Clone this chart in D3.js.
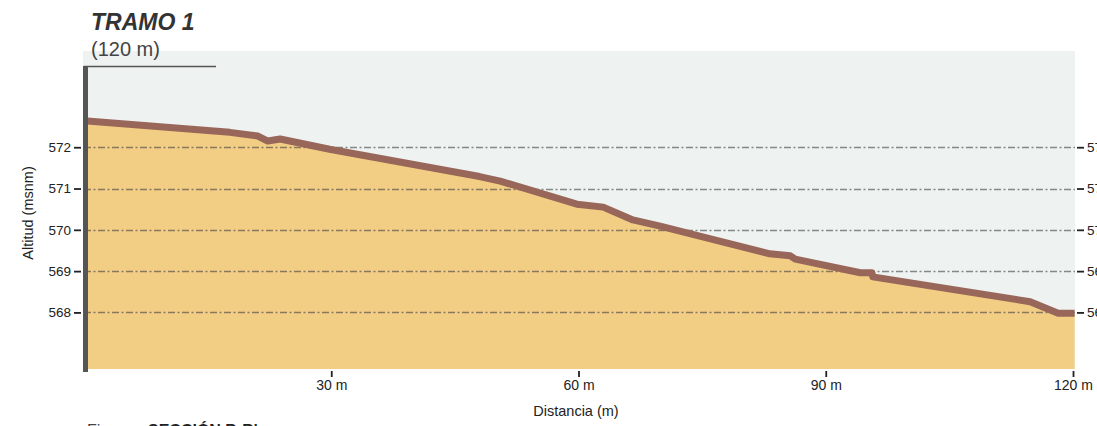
<!DOCTYPE html>
<html>
<head>
<meta charset="utf-8">
<script src="https://cdn.jsdelivr.net/npm/d3@7"></script>
<style>
  html, body { margin: 0; padding: 0; background: #ffffff; overflow: hidden; }
  svg { display: block; font-family: "Liberation Sans", Arial, Helvetica, sans-serif; }
</style>
</head>
<body>
<svg id="chart" width="1097" height="426"></svg>
<script>
// ---- data ----
const distances = [0, 17.7, 21.1, 22.3, 23.8, 29.8, 48.0, 50.5, 59.8, 63.0, 66.6, 69.9, 83.2, 85.7, 86.3, 94.2, 95.6, 95.7, 114.8, 118.2, 120.2];
const altitudes = [572.64, 572.36, 572.27, 572.15, 572.20, 571.95, 571.29, 571.18, 570.62, 570.55, 570.24, 570.09, 569.42, 569.37, 569.29, 568.96, 568.96, 568.86, 568.26, 567.98, 567.98];
const yTicks = [568, 569, 570, 571, 572];
const xTicks = [30, 60, 90, 120];
const xTickLabels = ["30 m", "60 m", "90 m", "120 m"];
const title = "TRAMO 1";
const subtitle = "(120 m)";
const yLabel = "Altitud (msnm)";
const xLabel = "Distancia (m)";

const profile = distances.map((d, i) => ({ d, a: altitudes[i] }));

// ---- layout ----
const svg = d3.select("#chart");
const plot = { left: 84, right: 1075, top: 51, bottom: 369 };

const x = d3.scaleLinear().domain([0, 120]).range([84, 1073]);
const y = d3.scaleLinear().domain([566.63, 574.33]).range([plot.bottom, plot.top]);

// background
svg.append("rect")
  .attr("x", plot.left - 1).attr("y", plot.top)
  .attr("width", plot.right - plot.left + 1).attr("height", plot.bottom - plot.top)
  .attr("fill", "#eef2f1");

// clip to plot
svg.append("clipPath").attr("id", "clip")
  .append("rect").attr("x", plot.left).attr("y", plot.top)
  .attr("width", plot.right - plot.left).attr("height", plot.bottom - plot.top);

const g = svg.append("g").attr("clip-path", "url(#clip)");

// terrain area
const area = d3.area()
  .x(p => x(p.d))
  .y0(plot.bottom + 5)
  .y1(p => y(p.a));
g.append("path").datum(profile)
  .attr("d", area)
  .attr("fill", "#f2ce85");

// gridlines
g.selectAll("line.grid").data(yTicks).enter().append("line")
  .attr("class", "grid")
  .attr("x1", plot.left).attr("x2", plot.right)
  .attr("y1", d => Math.round(y(d)) + 0.5).attr("y2", d => Math.round(y(d)) + 0.5)
  .attr("stroke", "rgba(65,65,65,0.6)")
  .attr("stroke-width", 1.7)
  .attr("stroke-dasharray", "7,2.5,2,2.5");

// profile line
const line = d3.line().x(p => x(p.d)).y(p => y(p.a));
g.append("path").datum(profile)
  .attr("d", line)
  .attr("fill", "none")
  .attr("stroke", "#98675a")
  .attr("stroke-width", 7)
  .attr("stroke-linejoin", "round");

// left axis
const leftAxis = d3.axisLeft(y).tickValues(yTicks).tickFormat(d3.format("d")).tickSize(7).tickPadding(3);
const la = svg.append("g").attr("transform", `translate(${plot.left - 3},0)`).call(leftAxis);
la.select(".domain").remove();
la.selectAll(".tick line").attr("stroke", "#222").attr("stroke-width", 1.8);
la.selectAll(".tick text").attr("fill", "#222").attr("font-size", 13.5)
  .attr("font-family", "'Liberation Sans', Arial, sans-serif");

// right axis (cut off by the window edge, as in the reference)
const rightAxis = d3.axisRight(y).tickValues(yTicks).tickFormat(d3.format("d")).tickSize(7).tickPadding(3);
const ra = svg.append("g").attr("transform", `translate(${plot.right + 2},0)`).call(rightAxis);
ra.select(".domain").remove();
ra.selectAll(".tick line").attr("stroke", "#222").attr("stroke-width", 1.8);
ra.selectAll(".tick text").attr("fill", "#222").attr("font-size", 13.5)
  .attr("font-family", "'Liberation Sans', Arial, sans-serif");

// thick vertical bar on left and the short top line
svg.append("line")
  .attr("x1", 85.5).attr("x2", 85.5)
  .attr("y1", 66).attr("y2", 372)
  .attr("stroke", "#555555").attr("stroke-width", 5);
svg.append("line")
  .attr("x1", 84).attr("x2", 216)
  .attr("y1", 66.5).attr("y2", 66.5)
  .attr("stroke", "#555555").attr("stroke-width", 1.6);

// bottom axis
const bottomAxis = d3.axisBottom(x).tickValues(xTicks)
  .tickFormat((d, i) => xTickLabels[i]).tickSize(6).tickPadding(3);
const ba = svg.append("g").attr("transform", `translate(0,${plot.bottom + 2})`).call(bottomAxis);
ba.select(".domain").remove();
ba.selectAll(".tick line").attr("stroke", "#222").attr("stroke-width", 1.8);
ba.selectAll(".tick text").attr("fill", "#222").attr("font-size", 14)
  .attr("font-family", "'Liberation Sans', Arial, sans-serif");

// axis labels
svg.append("text")
  .attr("x", 576).attr("y", 416)
  .attr("text-anchor", "middle")
  .attr("font-size", 14.5).attr("fill", "#222")
  .text(xLabel);

svg.append("text")
  .attr("transform", "translate(33,213) rotate(-90)")
  .attr("text-anchor", "middle")
  .attr("font-size", 14.5).attr("fill", "#222")
  .text(yLabel);

// titles
svg.append("text")
  .attr("x", 91).attr("y", 30)
  .attr("font-size", 23).attr("font-weight", "bold").attr("font-style", "italic")
  .attr("fill", "#333")
  .text(title);
svg.append("text")
  .attr("x", 91).attr("y", 56)
  .attr("font-size", 20).attr("fill", "#444")
  .text(subtitle);

// caption (cut off at bottom, as in the reference)
const cap = svg.append("text").attr("x", 87).attr("y", 436).attr("font-size", 16).attr("fill", "#444");
cap.append("tspan").text("Figura");
cap.append("tspan").attr("x", 148).attr("font-weight", "bold").attr("fill", "#222").text("SECCIÓN B-B'");
</script>
</body>
</html>
